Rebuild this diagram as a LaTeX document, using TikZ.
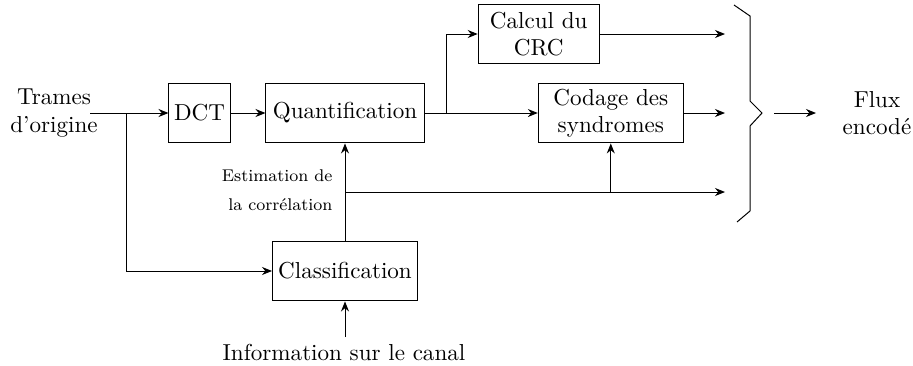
\documentclass[tikz,border=0pt]{standalone}
\usetikzlibrary{arrows.meta}
\begin{document}
\begin{tikzpicture}[x=0.4505pt,y=-0.4505pt,
  every node/.style={font=\fontsize{10.4pt}{12.4pt}\selectfont},
  blk/.style={draw,inner sep=0pt,align=center,minimum height=27pt},
  lbl/.style={inner sep=0pt,align=center},
  arr/.style={-{Stealth[length=4.5pt,width=3.6pt]}},
  line width=0.45pt]
\useasboundingbox (0,0) rectangle (913,365);
% nodes
\node[lbl] (orig) at (54,113) {Trames\\d'origine};
\node[blk,minimum width=27.5pt] (dct) at (199.5,113) {DCT};
\node[blk,minimum width=71.2pt] (quant) at (345,113) {Quantification};
\node[blk,minimum width=65.3pt] (class) at (345,271) {Classification};
\node[blk,minimum width=54.5pt] (crc) at (538.7,34) {Calcul du\\CRC};
\node[blk,minimum width=65.3pt] (cod) at (610.8,113) {Codage des\\syndromes};
\node[lbl] (info) at (344,352) {Information sur le canal};
\node[inner sep=0pt,align=right,anchor=east,font=\fontsize{7.65pt}{9.3pt}\selectfont] (est) at (333,190) {Estimation de\\[4pt]la corrélation};
\node[lbl] (flux) at (877,113) {Flux\\encodé};
% coordinates
\coordinate (in) at (90,113);
\coordinate (b1) at (126.7,113);
\coordinate (b2) at (446.7,113);
\coordinate (b3) at (345,192);
\coordinate (b4) at (610.8,192);
\coordinate (o1) at (725,34);
\coordinate (o2) at (725,113);
\coordinate (o3) at (725,192);
\coordinate (ia) at (345,337);
\coordinate (fa) at (774,113);
\coordinate (fb) at (816,113);
% connectors
\draw[arr] (in) -- (dct.west);
\draw[arr] (dct.east) -- (quant.west);
\draw[arr] (b1) |- (class.west);
\draw[arr] (quant.east) -- (cod.west);
\draw[arr] (b2) |- (crc.west);
\draw[arr] (crc.east) -- (o1);
\draw[arr] (cod.east) -- (o2);
\draw[arr] (class.north) -- (quant.south);
\draw[arr] (b3) -- (o3);
\draw[arr] (b4) -- (cod.south);
\draw[arr] (ia) -- (class.south);
\draw[arr] (fa) -- (fb);
% brace
\draw (734,5) -- (750,16) -- (750,101) -- (762,113) -- (750,126) -- (750,211) -- (737,222);
\end{tikzpicture}
\end{document}
